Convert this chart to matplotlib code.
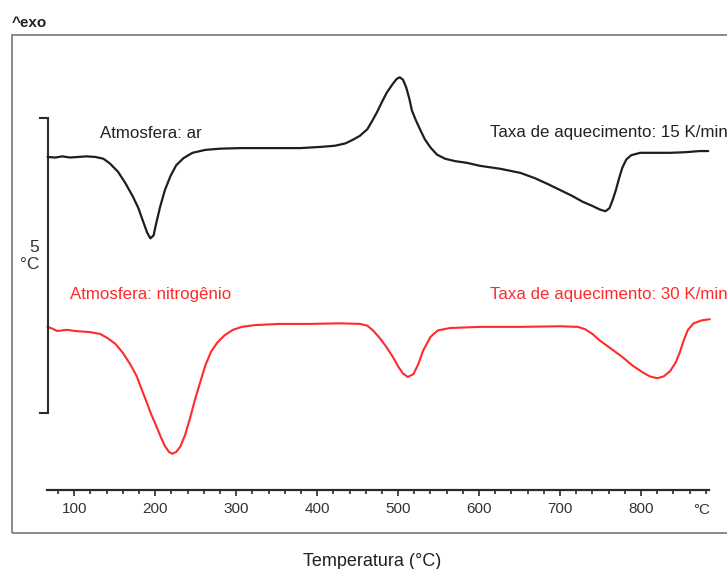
import matplotlib
matplotlib.use("Agg")
import matplotlib.pyplot as plt
from matplotlib.patches import Rectangle

plt.rcParams["font.family"] = ["Liberation Sans", "DejaVu Sans"]

# DTA curve in air, heating rate 15 K/min (temperature in °C, signal in °C)
temp_ar = [67, 77, 85, 95, 105, 115, 126, 136, 144, 154, 163, 172, 179, 185, 190,
           194, 198, 201, 206, 212, 219, 226, 235, 246, 262, 280, 305, 342, 379, 404,
           422, 435, 444, 453, 462, 468, 474, 480, 486, 493, 498, 502, 506, 510, 514,
           517, 522, 527, 533, 540, 548, 558, 570, 585, 601, 626, 651, 669, 685, 700,
           715, 728, 740, 749, 756, 761, 765, 769, 773, 777, 782, 788, 799, 817, 836,
           854, 873, 883]
dta_ar = [4.34, 4.33, 4.35, 4.33, 4.34, 4.35, 4.34, 4.31, 4.23, 4.09, 3.90, 3.68, 3.48, 3.25, 3.06,
          2.96, 3.01, 3.20, 3.49, 3.78, 4.02, 4.20, 4.32, 4.41, 4.46, 4.48, 4.49, 4.49, 4.49, 4.51,
          4.53, 4.57, 4.63, 4.70, 4.81, 4.95, 5.10, 5.27, 5.43, 5.57, 5.66, 5.69, 5.65, 5.52, 5.32,
          5.13, 4.96, 4.81, 4.64, 4.50, 4.38, 4.31, 4.27, 4.24, 4.19, 4.14, 4.07, 3.98, 3.88, 3.78,
          3.68, 3.58, 3.51, 3.45, 3.42, 3.47, 3.61, 3.78, 3.98, 4.16, 4.30, 4.37, 4.41, 4.41, 4.41,
          4.42, 4.44, 4.44]

# DTA curve in nitrogen, heating rate 30 K/min
temp_n2 = [67, 73, 79, 85, 91, 101, 120, 132, 141, 151, 160, 169, 177, 183, 189,
           195, 201, 207, 212, 217, 221, 226, 231, 237, 243, 249, 256, 262, 269, 277,
           286, 296, 307, 323, 354, 391, 428, 453, 462, 469, 478, 486, 494, 500, 506,
           512, 519, 525, 531, 540, 549, 564, 601, 651, 700, 722, 731, 740, 749, 762, 777,
           790, 802, 811, 820, 828, 836, 843, 848, 853, 858, 865, 875, 885]
dta_n2 = [1.46, 1.43, 1.39, 1.40, 1.41, 1.39, 1.37, 1.34, 1.27, 1.17, 1.02, 0.83, 0.63, 0.41, 0.20,
          -0.02, -0.21, -0.41, -0.56, -0.66, -0.69, -0.66, -0.57, -0.37, -0.09, 0.22, 0.54, 0.81, 1.04, 1.20,
          1.32, 1.41, 1.46, 1.49, 1.51, 1.51, 1.52, 1.51, 1.48, 1.40, 1.26, 1.11, 0.94, 0.79, 0.67,
          0.61, 0.66, 0.83, 1.06, 1.29, 1.40, 1.44, 1.46, 1.46, 1.47, 1.46, 1.42, 1.34, 1.23, 1.10, 0.95,
          0.80, 0.69, 0.62, 0.59, 0.62, 0.71, 0.86, 1.03, 1.24, 1.41, 1.52, 1.57, 1.59]

major_ticks = [100, 200, 300, 400, 500, 600, 700, 800]
minor_ticks = list(range(80, 900, 20))
tick_labels = ["100", "200", "300", "400", "500", "600", "700", "800"]

scale_bar = 5  # °C

W, H = 727, 569
fig = plt.figure(figsize=(W / 100, H / 100), dpi=100)


def fx(px):
    return px / W


def fy(py):
    return 1 - py / H


# outer grey frame
fig.add_artist(Rectangle((fx(12), fy(533)), fx(760) - fx(12), fy(35) - fy(533),
                         transform=fig.transFigure, fill=False,
                         edgecolor="#8a8a8a", linewidth=1.4))

ax = fig.add_axes([fx(46.7), fy(490), (709 - 46.7) / W, (490 - 35) / H])
ax.set_xlim(66, 884)
ax.set_ylim(-1.305, 6.407)
ax.patch.set_alpha(0)

for side in ("left", "right", "top"):
    ax.spines[side].set_visible(False)
ax.spines["bottom"].set_color("#2b2b2b")
ax.spines["bottom"].set_linewidth(1.6)
ax.set_yticks([])

ax.set_xticks(major_ticks)
ax.set_xticklabels(tick_labels)
ax.set_xticks(minor_ticks, minor=True)
ax.tick_params(axis="x", which="major", direction="out", length=4.5, width=1.2,
               pad=4.0, labelsize=11, color="#2b2b2b", labelcolor="#333333")
ax.tick_params(axis="x", which="minor", direction="out", length=3.2, width=1.2,
               color="#2b2b2b")
ax.annotate("°C", xy=(875, 0), xycoords=("data", "axes fraction"),
            xytext=(0, -9.0), textcoords="offset points",
            ha="center", va="top", fontsize=11, color="#333333")

# curves
ax.plot(temp_ar, dta_ar, color="#1e1e1e", linewidth=1.6,
        solid_joinstyle="round", solid_capstyle="round", clip_on=False)
ax.plot(temp_n2, dta_n2, color="#ff2a2a", linewidth=1.5,
        solid_joinstyle="round", solid_capstyle="round", clip_on=False)

# signal scale bar
ax.plot([58, 67, 67, 58], [scale_bar, scale_bar, 0, 0], color="#2b2b2b",
        linewidth=1.5, clip_on=False, solid_joinstyle="miter")
fig.text(fx(39), fy(256), f"{scale_bar}\n°C", ha="right", va="center",
         multialignment="right", fontsize=12.5, color="#333333", linespacing=1.1)

# annotations
fig.text(fx(12), fy(23), "^exo", ha="left", va="center", fontsize=11,
         fontweight="bold", color="#222222")
fig.text(fx(100), fy(137.5), "Atmosfera: ar", ha="left", va="baseline",
         fontsize=12.2, color="#222222")
fig.text(fx(490), fy(137.5), "Taxa de aquecimento: 15 K/min", ha="left",
         va="baseline", fontsize=12.2, color="#222222")
fig.text(fx(70), fy(299), "Atmosfera: nitrogênio", ha="left", va="baseline",
         fontsize=12.2, color="#ff2a2a")
fig.text(fx(490), fy(299), "Taxa de aquecimento: 30 K/min", ha="left",
         va="baseline", fontsize=12.2, color="#ff2a2a")
fig.text(fx(372), fy(561), "Temperatura (°C)", ha="center", va="center",
         fontsize=13, color="#222222")

fig.savefig("out.png", dpi=100)
